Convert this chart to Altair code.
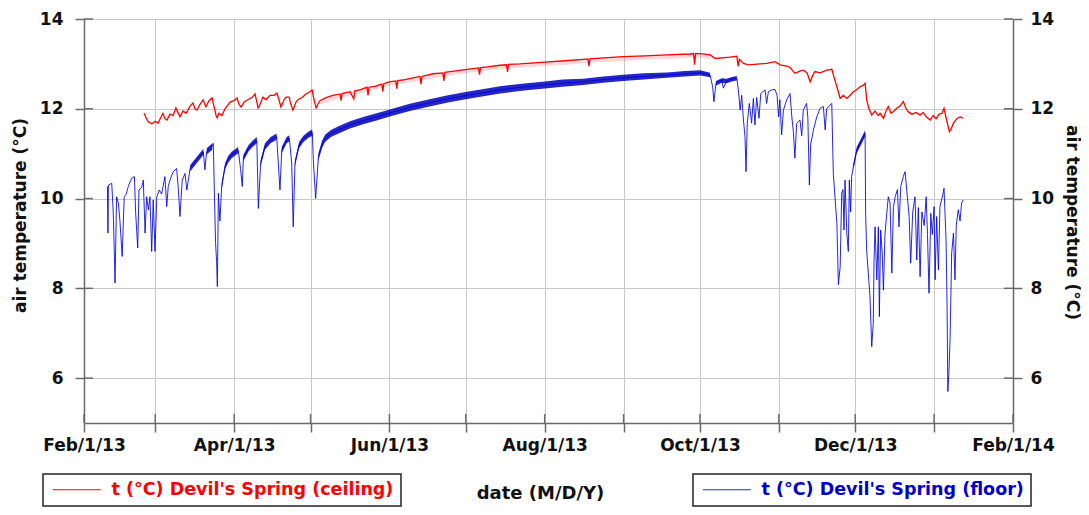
import altair as alt
import pandas as pd

START = pd.Timestamp("2013-02-01")

# ---- floor (blue) : day offset from Feb 1 2013, temperature
floor_days = [9.2, 9.4, 9.6, 10.9, 11.5, 12.2, 12.8, 13.5, 14.1, 15.0, 15.8, 16.6, 17.4, 18.7, 19.8, 20.3, 21.1, 21.6, 22.7, 23.3,
              24.0, 24.6, 25.3, 25.9, 26.6, 27.2, 27.9, 28.6, 29.6, 30.5, 31.8, 32.5, 33.1, 34.0, 35.1, 36.4, 37.1, 37.7, 38.6, 39.7,
              40.4, 41.7, 43.2, 44.9, 46.9, 47.5, 48.2, 50.4, 50.8, 51.2, 51.7, 52.1, 52.4, 52.8, 53.4, 54.1, 55.4, 56.6, 58.0, 60.6,
              61.5, 62.2, 62.6, 64.6, 66.2, 67.9, 68.5, 69.4, 71.1, 73.3, 75.7, 77.0, 77.7, 79.6, 80.7, 81.6, 82.2, 82.9, 84.5, 86.2,
              88.1, 89.7, 90.1, 91.0, 92.1, 93.5, 94.7, 97.0, 100.0, 104.5, 110.0, 115.0, 119.8, 128.0, 137.1, 143.0, 150.5, 157.0, 163.5, 172.0,
              181.1, 188.0, 196.1, 204.0, 211.8, 220.0, 229.1, 236.0, 242.1, 246.0, 247.0, 247.5, 248.3, 250.6, 251.2, 252.5, 254.5, 256.5, 257.1, 257.8,
              258.4, 259.1, 259.7, 260.1, 260.6, 261.4, 262.3, 263.0, 263.6, 264.3, 265.2, 265.9, 267.6, 268.2, 268.9, 270.2, 271.5, 272.3, 272.9, 273.4,
              274.1, 274.8, 276.1, 277.4, 278.1, 278.7, 279.3, 280.0, 281.3, 282.0, 282.6, 283.9, 284.4, 285.0, 285.5, 286.6, 287.9, 289.2, 290.5, 291.2,
              291.8, 293.1, 293.8, 294.4, 295.8, 296.4, 297.1, 297.7, 298.2, 298.6, 299.0, 299.7, 300.3, 300.7, 301.2, 301.6, 302.3, 303.6, 305.6, 306.9,
              307.1, 307.5, 308.8, 309.5, 310.1, 310.4, 310.8, 311.5, 312.1, 312.5, 313.0, 313.6, 314.1, 314.7, 315.4, 316.0, 316.7, 317.4, 318.0, 318.7,
              319.6, 320.2, 320.9, 321.9, 322.6, 323.5, 324.2, 324.8, 325.6, 326.5, 327.2, 327.8, 328.5, 329.2, 330.1, 330.9, 331.4, 332.0, 332.7, 333.3,
              334.0, 334.4, 335.0, 335.7, 336.3, 337.4, 337.9, 338.7, 339.1, 339.4, 339.8, 340.3, 340.9, 341.6, 342.2, 342.7, 343.5, 344.2, 344.8, 345.5]
floor_vals = [10.27, 9.23, 10.30, 10.34, 9.68, 8.12, 10.04, 9.90, 9.52, 8.71, 10.04, 10.10, 10.27, 10.45, 10.49, 9.68, 8.90, 10.19, 10.25, 10.41,
              9.23, 10.04, 9.75, 10.04, 8.82, 9.97, 8.82, 10.04, 10.19, 10.10, 10.49, 9.82, 10.27, 10.45, 10.60, 10.67, 10.19, 9.60, 10.41, 10.56,
              10.19, 10.67, 10.80, 10.90, 11.04, 10.64, 11.05, 11.16, 11.23, 10.19, 9.00, 8.60, 8.04, 10.12, 9.50, 10.27, 10.71, 10.87, 10.97, 11.08,
              10.67, 10.27, 10.90, 11.12, 11.22, 11.30, 9.78, 10.79, 11.16, 11.30, 11.38, 10.19, 11.08, 11.30, 11.34, 10.79, 9.37, 10.79, 11.19, 11.33,
              11.42, 11.47, 10.86, 10.00, 10.93, 11.20, 11.34, 11.45, 11.53, 11.64, 11.74, 11.82, 11.90, 12.03, 12.15, 12.22, 12.30, 12.36, 12.42, 12.48,
              12.53, 12.57, 12.60, 12.65, 12.69, 12.72, 12.75, 12.78, 12.80, 12.75, 12.49, 12.16, 12.57, 12.64, 12.46, 12.62, 12.66, 12.68, 12.42, 11.97,
              12.30, 11.75, 11.38, 10.60, 11.68, 12.12, 11.68, 12.23, 11.64, 12.25, 11.79, 12.34, 12.42, 12.12, 12.38, 12.42, 12.43, 12.30, 11.82, 12.20,
              11.42, 11.97, 12.20, 12.34, 11.82, 11.50, 10.90, 11.68, 11.75, 11.40, 11.97, 12.12, 11.80, 10.30, 11.20, 11.53, 11.82, 12.01, 12.05, 11.53,
              12.00, 12.08, 12.12, 10.56, 9.45, 8.08, 8.48, 10.12, 10.20, 9.30, 10.41, 9.23, 8.82, 10.41, 9.70, 10.49, 10.71, 11.08, 11.30, 11.45,
              9.67, 8.85, 7.82, 6.70, 7.22, 8.60, 9.37, 8.19, 9.37, 7.37, 9.30, 8.80, 7.96, 9.20, 9.67, 10.04, 9.90, 8.34, 9.80, 10.04,
              10.20, 9.37, 10.27, 10.49, 10.60, 10.04, 9.60, 8.56, 9.70, 10.04, 8.63, 9.80, 8.26, 9.70, 9.40, 10.04, 9.20, 7.89, 9.67, 9.20,
              9.82, 8.19, 9.60, 8.41, 9.82, 10.08, 10.23, 9.08, 7.59, 5.70, 6.10, 6.92, 8.78, 9.23, 8.19, 9.40, 9.75, 9.50, 9.90, 9.97]

# ---- daily spread of the floor record where it is dense
band_seg = [1, 1, 1, 2, 2, 3, 3, 3, 3, 3, 4, 4, 4, 4, 5, 5, 5, 5, 6, 6, 6, 7, 7, 7, 7, 7,
            8, 8, 8, 8, 8, 8, 8, 8, 8, 8, 8, 8, 8, 8, 8, 8, 8, 8, 8, 8, 8, 8, 8, 8, 8, 8,
            9, 9, 9, 9, 9, 10, 10, 10, 10]
band_days = [41.7, 44.9, 46.9, 48.2, 50.4, 54.1, 55.4, 56.6, 58.0, 60.6, 62.6, 64.6, 66.2, 67.9, 69.4, 71.1, 73.3, 75.7, 77.7, 79.6, 80.7,
             82.9, 84.5, 86.2, 88.1, 89.7,
             92.1, 93.5, 94.7, 97.0, 100.0, 104.5, 110.0, 115.0, 119.8, 128.0, 137.1, 143.0, 150.5, 157.0, 163.5, 172.0, 181.1, 188.0,
             196.1, 204.0, 211.8, 220.0, 229.1, 236.0, 242.1, 246.0,
             248.3, 250.6, 252.5, 254.5, 256.5, 302.3, 303.6, 305.6, 306.9]
band_lo = [10.60, 10.83, 10.97, 10.98, 11.09, 10.20, 10.64, 10.80, 10.90, 11.01, 10.83, 11.05, 11.15, 11.23, 10.72, 11.09, 11.23, 11.31,
           11.01, 11.23, 11.27, 10.72, 11.12, 11.26, 11.35, 11.40,
           10.85, 11.12, 11.26, 11.37, 11.45, 11.56, 11.66, 11.74, 11.82, 11.95, 12.07, 12.14, 12.22, 12.28, 12.34, 12.40, 12.45, 12.49,
           12.53, 12.58, 12.62, 12.65, 12.69, 12.72, 12.74, 12.70,
           12.52, 12.58, 12.57, 12.61, 12.63, 10.64, 11.01, 11.23, 11.38]
band_hi = [10.74, 10.97, 11.11, 11.12, 11.23, 10.34, 10.78, 10.94, 11.04, 11.15, 10.97, 11.19, 11.29, 11.37, 10.86, 11.23, 11.37, 11.45,
           11.15, 11.37, 11.41, 10.86, 11.26, 11.40, 11.49, 11.54,
           11.01, 11.28, 11.42, 11.53, 11.61, 11.72, 11.82, 11.90, 11.98, 12.11, 12.23, 12.30, 12.38, 12.44, 12.50, 12.56, 12.61, 12.65,
           12.67, 12.72, 12.76, 12.79, 12.81, 12.84, 12.86, 12.80,
           12.62, 12.68, 12.67, 12.71, 12.73, 10.78, 11.15, 11.37, 11.52]

# ---- ceiling (red)
ceil_days = [23.6, 24.4, 25.1, 26.7, 27.9, 29.1, 31.0, 31.8, 32.6, 33.8, 35.0, 36.1, 36.9, 37.7, 38.9, 40.1, 41.7, 42.8, 43.6, 44.4,
             45.6, 46.8, 47.9, 49.1, 50.3, 51.1, 51.9, 52.3, 53.0, 54.2, 55.4, 57.4, 58.9, 60.1, 60.9, 61.7, 62.9, 64.4, 66.0, 67.2,
             68.4, 69.2, 70.3, 71.5, 73.1, 74.7, 75.8, 76.6, 77.4, 78.6, 79.4, 80.6, 81.3, 82.1, 83.3, 84.1, 85.7, 87.2, 88.8, 89.6,
             90.4, 91.2, 91.9, 92.7, 95.1, 97.8, 100.6, 101.0, 101.4, 104.5, 106.0, 106.4, 108.4, 111.2, 111.6, 112.0, 114.3, 117.0, 117.4, 117.8,
             119.8, 122.5, 122.9, 123.3, 126.1, 132.0, 132.4, 132.8, 137.1, 141.0, 141.4, 141.8, 143.8, 150.5, 155.0, 155.4, 155.8, 157.6, 163.5, 166.0,
             166.4, 166.8, 171.3, 181.1, 188.9, 196.1, 198.0, 198.4, 198.8, 202.8, 211.8, 220.4, 229.1, 238.1, 239.5, 239.9, 240.3, 242.1, 246.0, 248.0,
             253.8, 256.5, 257.0, 257.5, 259.1, 261.0, 265.6, 268.2, 271.5, 273.5, 276.1, 277.4, 279.3, 281.3, 282.6, 284.1, 285.3, 286.4, 287.2, 289.2,
             291.8, 293.8, 294.7, 295.8, 297.1, 298.3, 299.7, 301.0, 302.3, 303.4, 304.9, 306.1, 306.9, 307.5, 308.4, 309.5, 310.8, 312.0, 312.8, 314.1,
             315.1, 316.0, 317.1, 318.3, 319.3, 320.6, 321.9, 323.0, 323.9, 325.3, 326.9, 328.5, 329.7, 330.9, 332.5, 333.6, 334.8, 336.0, 337.1, 337.9,
             338.7, 340.0, 340.7, 341.6, 343.1, 344.2, 345.3]
ceil_vals = [11.90, 11.80, 11.72, 11.66, 11.72, 11.68, 11.90, 11.78, 11.75, 11.88, 11.85, 12.02, 11.92, 11.82, 11.95, 11.90, 12.06, 12.13, 12.00, 11.97,
             12.10, 12.20, 12.04, 12.18, 12.24, 12.05, 11.85, 11.80, 11.90, 11.85, 12.00, 12.15, 12.18, 12.24, 12.10, 12.04, 12.15, 12.20, 12.25, 12.33,
             12.02, 12.10, 12.26, 12.20, 12.30, 12.30, 12.35, 12.20, 12.04, 12.20, 12.26, 12.26, 12.10, 11.97, 12.15, 12.20, 12.25, 12.33, 12.38, 12.42,
             12.20, 12.02, 12.10, 12.18, 12.25, 12.30, 12.33, 12.18, 12.34, 12.38, 12.22, 12.40, 12.42, 12.48, 12.30, 12.48, 12.50, 12.55, 12.38, 12.56,
             12.60, 12.62, 12.45, 12.63, 12.65, 12.72, 12.55, 12.72, 12.78, 12.80, 12.62, 12.81, 12.83, 12.88, 12.91, 12.76, 12.92, 12.93, 12.97, 12.98,
             12.82, 12.99, 13.00, 13.04, 13.07, 13.10, 13.11, 12.95, 13.11, 13.13, 13.16, 13.18, 13.20, 13.22, 13.23, 12.98, 13.23, 13.23, 13.20, 13.12,
             13.15, 13.17, 12.95, 13.10, 13.01, 12.98, 13.00, 13.01, 13.05, 12.98, 12.95, 12.92, 12.79, 12.84, 12.86, 12.80, 12.60, 12.75, 12.83, 12.80,
             12.86, 12.88, 12.70, 12.49, 12.23, 12.30, 12.23, 12.30, 12.38, 12.42, 12.49, 12.52, 12.57, 12.20, 12.00, 11.86, 11.95, 11.85, 11.90, 11.79,
             11.95, 12.05, 11.90, 11.95, 12.01, 12.06, 12.16, 12.00, 11.93, 11.88, 11.92, 11.86, 11.92, 11.82, 11.75, 11.85, 11.78, 11.88, 11.90, 12.01,
             11.80, 11.49, 11.55, 11.68, 11.79, 11.82, 11.79]

# ---- fringe of daily dips below the ceiling record in summer
fringe_days = [92.7, 100.0, 110.0, 120.0, 130.0, 140.0, 150.0, 160.0, 170.0, 180.0, 190.0, 200.0, 210.0, 220.0, 230.0, 240.0, 246.0]
fringe_hi = [12.18, 12.32, 12.45, 12.60, 12.70, 12.79, 12.88, 12.95, 13.00, 13.04, 13.07, 13.12, 13.15, 13.18, 13.20, 13.23, 13.20]
fringe_lo = [12.09, 12.23, 12.36, 12.51, 12.61, 12.70, 12.79, 12.86, 12.91, 12.95, 12.98, 13.03, 13.06, 13.09, 13.11, 13.14, 13.11]

# ---- axis tick positions
y_tick_vals = [6, 8, 10, 12, 14]
month_tick_dates = ["2013-02-01T00:00:00", "2013-03-01T00:00:00", "2013-04-01T00:00:00", "2013-05-01T00:00:00",
                    "2013-06-01T00:00:00", "2013-07-01T00:00:00", "2013-08-01T00:00:00", "2013-09-01T00:00:00",
                    "2013-10-01T00:00:00", "2013-11-01T00:00:00", "2013-12-01T00:00:00", "2014-01-01T00:00:00",
                    "2014-02-01T00:00:00"]

CEIL_NAME = "t (°C) Devil's Spring (ceiling)"
FLOOR_NAME = "t (°C) Devil's Spring (floor)"
RED = "#ff0000"
BLUE = "#0000dd"
FONT = "DejaVu Sans"


def to_dates(days):
    return [(START + pd.to_timedelta(d, unit="D")).strftime("%Y-%m-%dT%H:%M:%S") for d in days]


floor_df = pd.DataFrame({"date": to_dates(floor_days), "t": floor_vals, "series": FLOOR_NAME})
ceil_df = pd.DataFrame({"date": to_dates(ceil_days), "t": ceil_vals, "series": CEIL_NAME})
band_df = pd.DataFrame({"date": to_dates(band_days), "lo": band_lo, "hi": band_hi, "seg": band_seg})
fringe_df = pd.DataFrame({"date": to_dates(fringe_days), "lo": fringe_lo, "hi": fringe_hi})
ytick_df = pd.DataFrame({"t": y_tick_vals})
xtick_df = pd.DataFrame({"date": month_tick_dates})

month_ticks = [alt.DateTime(year=2013 + (m // 12), month=(m % 12) + 1, date=1) for m in range(1, 14)]
x_dom = [alt.DateTime(year=2013, month=2, date=1), alt.DateTime(year=2014, month=2, date=1)]

GRID = "#c8c8c8"
AX = "#6a6a6a"
PW, PH = 929, 404

x_axis = alt.Axis(values=month_ticks, labelExpr="month(datum.value) % 2 == 1 ? timeFormat(datum.value, '%b/%-d/%y') : ''",
                  grid=True, gridColor=GRID, gridWidth=1, domainColor=AX, domainWidth=1.5,
                  tickColor=AX, tickWidth=1.5, tickSize=9, labelPadding=5, labelFlush=False, labelOverlap=False,
                  labelFont=FONT, labelFontSize=17, labelFontWeight="bold", labelColor="#111",
                  title="date (M/D/Y)", titleFont=FONT, titleFontSize=18, titleFontWeight="bold", titleColor="#111",
                  titleX=456, titleY=70, titleBaseline="middle", titleAlign="center")
x_enc = alt.X("date:T", scale=alt.Scale(domain=x_dom), axis=x_axis)

y_scale = alt.Scale(domain=[5, 14], nice=False, zero=False)
left_axis = alt.Axis(orient="left", values=y_tick_vals, grid=True, gridColor=GRID, gridWidth=1,
                     domainColor=AX, domainWidth=1.5, tickColor=AX, tickWidth=1.5, tickSize=9, labelPadding=12,
                     labelFont=FONT, labelFontSize=17, labelFontWeight="bold", labelColor="#111",
                     title="air temperature (°C)", titleFont=FONT, titleFontSize=17, titleFontWeight="bold", titleColor="#111",
                     titleX=-64, titleY=196, titleAngle=270, titleBaseline="middle", titleAlign="center")
right_axis = alt.Axis(orient="right", values=y_tick_vals, grid=False,
                      domainColor=AX, domainWidth=1.5, tickColor=AX, tickWidth=1.5, tickSize=9, labelPadding=8,
                      labelFont=FONT, labelFontSize=17, labelFontWeight="bold", labelColor="#111",
                      title="air temperature (°C)", titleFont=FONT, titleFontSize=17, titleFontWeight="bold", titleColor="#111",
                      titleX=58, titleY=203, titleAngle=90, titleBaseline="middle", titleAlign="center")


def legend(x, y, col):
    return alt.Legend(orient="none", legendX=x, legendY=y, title=None, labelColor=col, labelFont=FONT,
                      labelFontSize=17.5, labelFontWeight="bold", labelLimit=0, padding=7,
                      strokeColor="#222", fillColor="white", cornerRadius=0,
                      symbolType="M-4,0H4", symbolSize=144, symbolStrokeWidth=1, symbolOffset=18, labelOffset=26)


fringe = alt.Chart(fringe_df).mark_area(color=RED, opacity=0.15).encode(
    x=x_enc,
    y=alt.Y("lo:Q", scale=y_scale, axis=None),
    y2="hi:Q",
)

band = alt.Chart(band_df).mark_area(color="#0000bb", opacity=0.85).encode(
    x=x_enc,
    y=alt.Y("lo:Q", scale=y_scale, axis=None),
    y2="hi:Q",
    detail="seg:N",
)

floor_line = alt.Chart(floor_df).mark_line(strokeWidth=1, opacity=0.85).encode(
    x=x_enc,
    y=alt.Y("t:Q", scale=y_scale, axis=left_axis),
    color=alt.Color("series:N", scale=alt.Scale(domain=[FLOOR_NAME], range=[BLUE]), legend=legend(609, 455, "#0000cc")),
)

ceil_line = alt.Chart(ceil_df).mark_line(strokeWidth=1.3).encode(
    x=x_enc,
    y=alt.Y("t:Q", scale=y_scale, axis=right_axis),
    color=alt.Color("series:N", scale=alt.Scale(domain=[CEIL_NAME], range=[RED]), legend=legend(-41, 455, RED)),
)

# inner halves of the crossing axis ticks
ytick_left = alt.Chart(ytick_df).mark_rule(color=AX, strokeWidth=1.5).encode(
    y=alt.Y("t:Q", scale=y_scale, axis=None), x=alt.value(0), x2=alt.value(9))
ytick_right = alt.Chart(ytick_df).mark_rule(color=AX, strokeWidth=1.5).encode(
    y=alt.Y("t:Q", scale=y_scale, axis=None), x=alt.value(PW - 9), x2=alt.value(PW))
xtick_in = alt.Chart(xtick_df).mark_rule(color=AX, strokeWidth=1.5).encode(
    x=x_enc, y=alt.value(PH - 9), y2=alt.value(PH))

chart = alt.layer(fringe, band, floor_line, ceil_line, ytick_left, ytick_right, xtick_in).resolve_scale(
    y="independent", color="independent"
).properties(
    width=PW, height=PH,
    autosize=alt.AutoSizeParams(type="none"),
    padding={"left": 76, "top": 11, "right": 68, "bottom": 84},
    background="white",
).configure_view(stroke=None).configure_legend(strokeWidth=1.5)

chart.save("out.html", embed_options={"renderer": "svg", "actions": False})
